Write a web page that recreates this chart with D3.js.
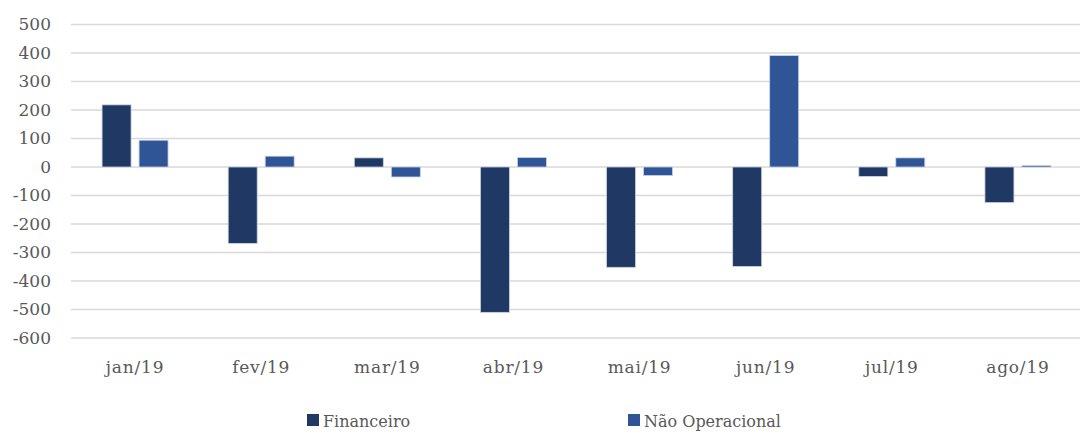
<!DOCTYPE html>
<html>
<head>
<meta charset="utf-8">
<script src="https://cdn.jsdelivr.net/npm/d3@7"></script>
<style>
  body { margin: 0; background: #fff; }
</style>
</head>
<body>
<script>
// Dados
var months = ["jan/19", "fev/19", "mar/19", "abr/19", "mai/19", "jun/19", "jul/19", "ago/19"];
var financeiro = [218, -268, 32, -510, -352, -349, -33, -125];
var nao_operacional = [94, 38, -35, 33, -30, 391, 32, 5];
var series_names = ["Financeiro", "Não Operacional"];
var series_colors = ["#203864", "#2f5597"];
var y_ticks = [500, 400, 300, 200, 100, 0, -100, -200, -300, -400, -500, -600];

var width = 1086;
var height = 434;
var plot_left = 71, plot_right = 1080, plot_top = 24.5, plot_bottom = 338;
var font = "DejaVu Serif";

var svg = d3.select("body").append("svg")
    .attr("width", width)
    .attr("height", height)
    .style("font-family", font);

var x = d3.scaleBand().domain(months).range([plot_left, plot_right]);
var x_inner = d3.scaleBand().domain(series_names).range([0, 66]).paddingInner(0.216);
var y = d3.scaleLinear().domain([-600, 500]).range([plot_bottom, plot_top]);

// Grid lines
svg.append("g").selectAll("line")
    .data(y_ticks)
    .enter()
    .append("line")
    .attr("x1", plot_left)
    .attr("x2", plot_right)
    .attr("y1", function (d) { return y(d); })
    .attr("y2", function (d) { return y(d); })
    .attr("stroke", "#d9d9d9")
    .attr("stroke-width", 1.3);

// Y axis labels
svg.append("g").selectAll("text")
    .data(y_ticks)
    .enter()
    .append("text")
    .attr("x", 51)
    .attr("y", function (d) { return y(d); })
    .attr("dy", "0.35em")
    .attr("text-anchor", "end")
    .attr("fill", "#595959")
    .style("font-size", "17px")
    .text(function (d) { return d; });

// X axis labels
svg.append("g").selectAll("text")
    .data(months)
    .enter()
    .append("text")
    .attr("x", function (d) { return x(d) + x.bandwidth() / 2 + 1; })
    .attr("y", 373)
    .attr("text-anchor", "middle")
    .attr("fill", "#595959")
    .style("font-size", "17px")
    .style("letter-spacing", "0.8px")
    .text(function (d) { return d; });

// Bars
var all_series = [financeiro, nao_operacional];
for (var s = 0; s < all_series.length; s++) {
    svg.append("g").selectAll("rect")
        .data(all_series[s])
        .enter()
        .append("rect")
        .attr("x", function (d, i) {
            return x(months[i]) + x.bandwidth() / 2 - 32 + x_inner(series_names[s]);
        })
        .attr("y", function (d) { return y(Math.max(0, d)); })
        .attr("width", x_inner.bandwidth())
        .attr("height", function (d) { return Math.abs(y(d) - y(0)); })
        .attr("fill", series_colors[s])
        .attr("stroke", "#c9d3e6")
        .attr("stroke-width", 0.8);
}

// Legend
var legend_x = [307, 628];
var legend = svg.append("g").selectAll("g")
    .data(series_names)
    .enter()
    .append("g")
    .attr("transform", function (d, i) { return "translate(" + legend_x[i] + ",414)"; });

legend.append("rect")
    .attr("width", 12)
    .attr("height", 12)
    .attr("fill", function (d, i) { return series_colors[i]; });

legend.append("text")
    .attr("x", 16)
    .attr("y", 13)
    .attr("fill", "#595959")
    .style("font-size", "16px")
    .text(function (d) { return d; });
</script>
</body>
</html>
